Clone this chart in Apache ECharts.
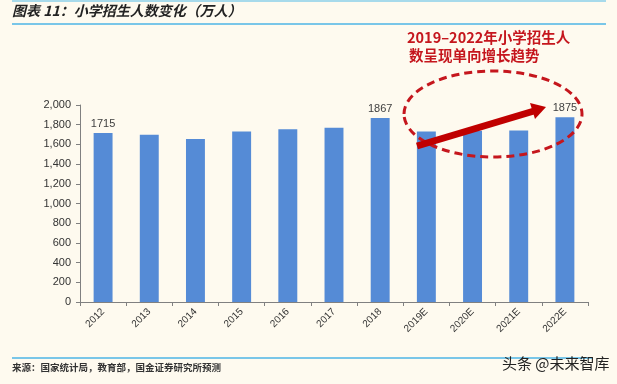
<!DOCTYPE html>
<html>
<head>
<meta charset="utf-8">
<script src="https://cdn.jsdelivr.net/npm/echarts@6/dist/echarts.min.js"></script>
<style>
html,body{margin:0;padding:0;background:#FEFAEF;}
#c{width:617px;height:384px;}
</style>
</head>
<body>
<div id="c"></div>
<script>
const categories = ['2012','2013','2014','2015','2016','2017','2018','2019E','2020E','2021E','2022E'];
const enrollment = [1715,1697,1656,1731,1754,1768,1867,1730,1738,1740,1875];
const labeledIdx = [0,6,10];
const yTicks = {min:0, max:2000, interval:200};

const red = '#C5161D';
const chart = echarts.init(document.getElementById('c'), null, {renderer:'canvas'});
const data = enrollment.map((v,i)=>({
  value:v,
  label:{show: labeledIdx.includes(i)}
}));
chart.setOption({
  backgroundColor:'#FEFAEF',
  animation:false,
  grid:{left:80,right:29,top:105,bottom:82},
  xAxis:{
    type:'category', data:categories,
    axisLine:{lineStyle:{color:'#808080',width:1}},
    axisTick:{show:true,alignWithLabel:false,length:4,lineStyle:{color:'#808080'}},
    axisLabel:{rotate:45,fontFamily:'Liberation Sans',fontSize:10,color:'#333',margin:8,interval:0}
  },
  yAxis:{
    type:'value', min:yTicks.min, max:yTicks.max, interval:yTicks.interval,
    splitLine:{show:false},
    axisLine:{show:true,lineStyle:{color:'#808080'}},
    axisTick:{show:true,length:4,lineStyle:{color:'#808080'}},
    axisLabel:{fontFamily:'Liberation Sans',fontSize:11,color:'#333',margin:9,
      formatter:v=>v.toLocaleString('en-US')}
  },
  series:[{
    type:'bar', data:data, barWidth:'41%',
    itemStyle:{color:'#558BD6'},
    label:{position:'top',fontFamily:'Liberation Sans',fontSize:11,color:'#404040',distance:4}
  }],
  graphic:[
    {type:'line',shape:{x1:12,y1:1,x2:606,y2:1},style:{stroke:'#8ACFEA',lineWidth:1.5}},
    {type:'text',left:12,top:4,style:{text:'图表 11：小学招生人数变化（万人）',font:'italic bold 14px "Noto Sans CJK SC"',fill:'#222'}},
    {type:'line',shape:{x1:12,y1:24,x2:606,y2:24},style:{stroke:'#79C6E8',lineWidth:2}},
    {type:'line',shape:{x1:12,y1:358,x2:592,y2:358},style:{stroke:'#79C6E8',lineWidth:2}},
    {type:'text',left:12,top:363,style:{text:'来源：国家统计局，教育部，国金证券研究所预测',font:'bold 9.5px "Noto Sans CJK SC"',fill:'#333'}},
    {type:'text',left:502,top:356,style:{text:'头条 @未来智库',font:'15px "Noto Sans CJK SC"',fill:'#222'}},
    {type:'text',left:407,top:30,style:{text:'2019–2022年小学招生人',font:'bold 14.5px "Noto Sans CJK SC"',fill:red}},
    {type:'text',left:409,top:48,style:{text:'数呈现单向增长趋势',font:'bold 14.5px "Noto Sans CJK SC"',fill:red}},
    {type:'ellipse',shape:{cx:493,cy:114,rx:89,ry:43},style:{fill:'none',stroke:red,lineWidth:3,lineDash:[8,5]},z:10},
    {type:'line',shape:{x1:417,y1:146,x2:534,y2:111},style:{stroke:'#C00000',lineWidth:7},z:11},
    {type:'polygon',shape:{points:[[546,107],[535,119],[530,103]]},style:{fill:'#C00000'},z:11}
  ]
});
</script>
</body>
</html>
